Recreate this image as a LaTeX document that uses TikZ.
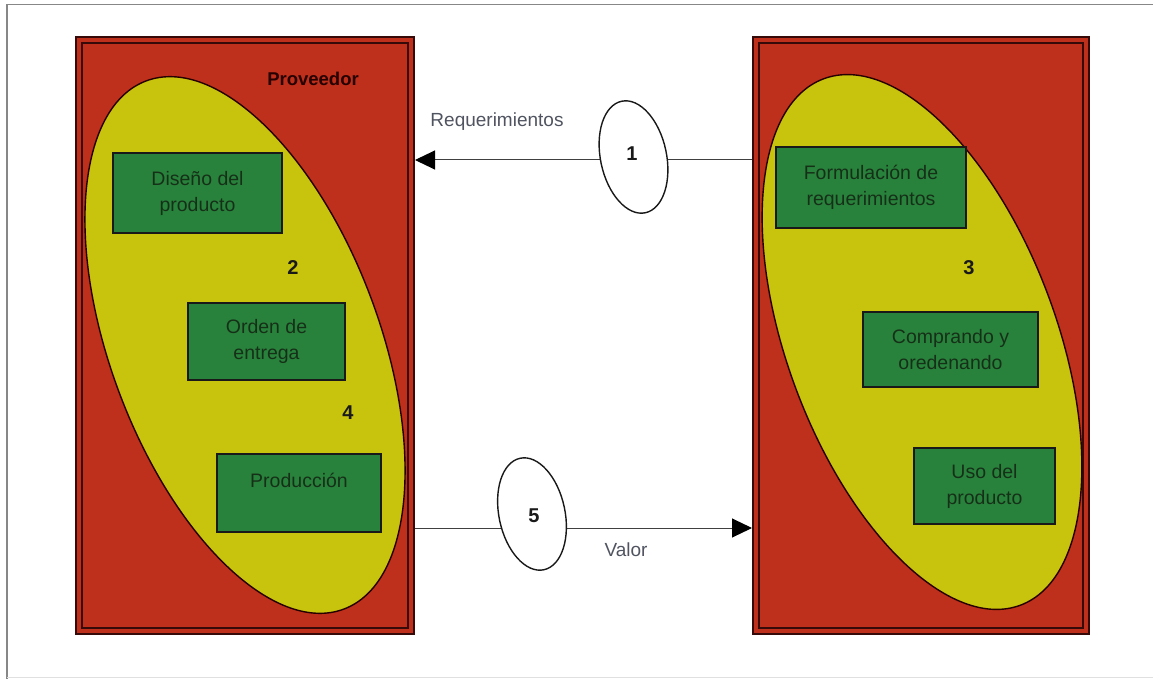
\documentclass[tikz,border=0pt]{standalone}
\usepackage{fontspec}
\setmainfont{Liberation Sans}
\usetikzlibrary{arrows.meta}

\definecolor{boxred}{RGB}{190,48,28}
\definecolor{boxedge}{RGB}{55,10,10}
\definecolor{zoneyellow}{RGB}{200,195,12}
\definecolor{stepgreen}{RGB}{40,130,60}
\definecolor{steptext}{RGB}{22,48,24}
\definecolor{flowtext}{RGB}{80,84,96}
\definecolor{framegray}{RGB}{135,135,135}

\tikzset{
  party/.style={rectangle, draw=boxedge, line width=2pt, double=boxred,
    double distance=4pt, fill=boxred, inner sep=0pt, outer sep=0pt},
  zone/.style={draw=black!85!red, line width=1.4pt, fill=zoneyellow},
  stepbox/.style={rectangle, draw=black!90, line width=2.2pt, fill=stepgreen,
    text=steptext, align=center, inner sep=0pt,
    font=\fontsize{19.5}{26}\selectfont},
  marker/.style={draw=black!90, line width=1.4pt, fill=white},
  num/.style={font=\fontsize{20}{24}\selectfont\bfseries, text=black!90},
  flowlabel/.style={font=\fontsize{19}{23}\selectfont, text=flowtext},
  flow/.style={draw=black!75, line width=1pt, shorten <=4pt, shorten >=4pt},
  tip/.style={-{Triangle[length=20pt,width=19pt,color=black]}}
}

\begin{document}
\begin{tikzpicture}[x=1pt,y=-1pt]
  % page area and frame lines
  \useasboundingbox (0,0) rectangle (1153,679);
  \draw[framegray, line width=1.6pt] (7,679) -- (7,4.5) -- (1153,4.5);
  \draw[black!12, line width=1pt] (7,677) -- (1153,677);

  % the two parties
  \node[party, minimum width=332pt, minimum height=591pt] (L) at (245,335.5) {};
  \node[party, minimum width=330pt, minimum height=591pt] (R) at (921,335.5) {};

  % yellow activity zones
  \draw[zone, rotate around={20.5:(245,345)}] (245,345) ellipse [x radius=134.5pt, y radius=282pt];
  \draw[zone, rotate around={20.5:(922,342)}] (922,342) ellipse [x radius=134.5pt, y radius=281pt];

  \node[font=\fontsize{18.5}{22}\selectfont\bfseries, text=black!85!red] (prov) at (313,79) {Proveedor};

  % supplier activities
  \node[stepbox, minimum width=169pt, minimum height=80pt] (dis) at (197.5,193) {Diseño del\\producto};
  \node[stepbox, minimum width=157pt, minimum height=77pt] (ord) at (266.5,341.5) {Orden de\\entrega};
  \node[stepbox, minimum width=164pt, minimum height=78pt] (prod) at (299,493) {Producción\\\mbox{}};
  \node[num] (n2) at (293,268) {2};
  \node[num] (n4) at (348,413) {4};

  % customer activities
  \node[stepbox, minimum width=190pt, minimum height=81pt] (form) at (871,187.5) {Formulación de\\requerimientos};
  \node[stepbox, minimum width=175pt, minimum height=75pt] (comp) at (950.5,349.5) {Comprando y\\oredenando};
  \node[stepbox, minimum width=141pt, minimum height=76pt] (uso) at (984.5,486) {Uso del\\producto};
  \node[num] (n3) at (969,268) {3};

  % requirements flow (customer -> supplier)
  \draw[flow, tip] (R.west |- 0,160) -- (L.east |- 0,160);
  \draw[marker, rotate around={12:(633.5,157)}] (633.5,157) ellipse [x radius=33pt, y radius=57pt];
  \node[num] (n1) at (632,154) {1};
  \node[flowlabel] (req) at (497,122) {Requerimientos};

  % value flow (supplier -> customer)
  \draw[flow, tip] (L.east |- 0,528) -- (R.west |- 0,528);
  \draw[marker, rotate around={12:(532,514)}] (532,514) ellipse [x radius=33pt, y radius=57pt];
  \node[num] (n5) at (534,516) {5};
  \node[flowlabel] (val) at (626,550) {Valor};
\end{tikzpicture}
\end{document}
